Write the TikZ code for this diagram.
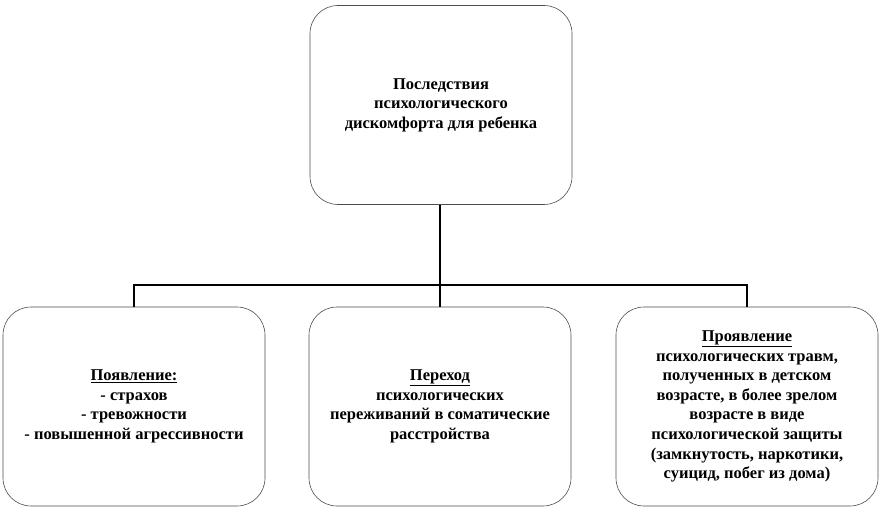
\documentclass[tikz,border=0pt]{standalone}
\usepackage{fontspec}
\setmainfont{Liberation Serif}
\begin{document}
\begin{tikzpicture}[x=1pt,y=-1pt,
  box/.style={draw=black!70,line width=0.6pt,rounded corners=28pt,minimum width=262pt,minimum height=199pt,align=center,font=\bfseries\fontsize{16.5}{19.6}\selectfont,inner sep=4pt},
  conn/.style={line width=2pt,black}]
\useasboundingbox (0,0) rectangle (882,510);
\node[box] (top) at (441,105) {Последствия\\психологического\\дискомфорта для ребенка};
\node[box] (l) at (134,406.5) {\underline{Появление:}\\- страхов\\- тревожности\\- повышенной агрессивности};
\node[box] (m) at (440,406.5) {\underline{Переход}\\психологических\\переживаний в соматические\\расстройства};
\node[box] (r) at (747,406.5) {\underline{Проявление}\\психологических травм,\\полученных в детском\\возрасте, в более зрелом\\возрасте в виде\\психологической защиты\\(замкнутость, наркотики,\\суицид, побег из дома)};
\coordinate (j) at (440,285);
\draw[conn] (top.south -| j) -- (m.north -| j);
\draw[conn] (l.north) -- (l.north |- j) -- (r.north |- j) -- (r.north);
\end{tikzpicture}
\end{document}
